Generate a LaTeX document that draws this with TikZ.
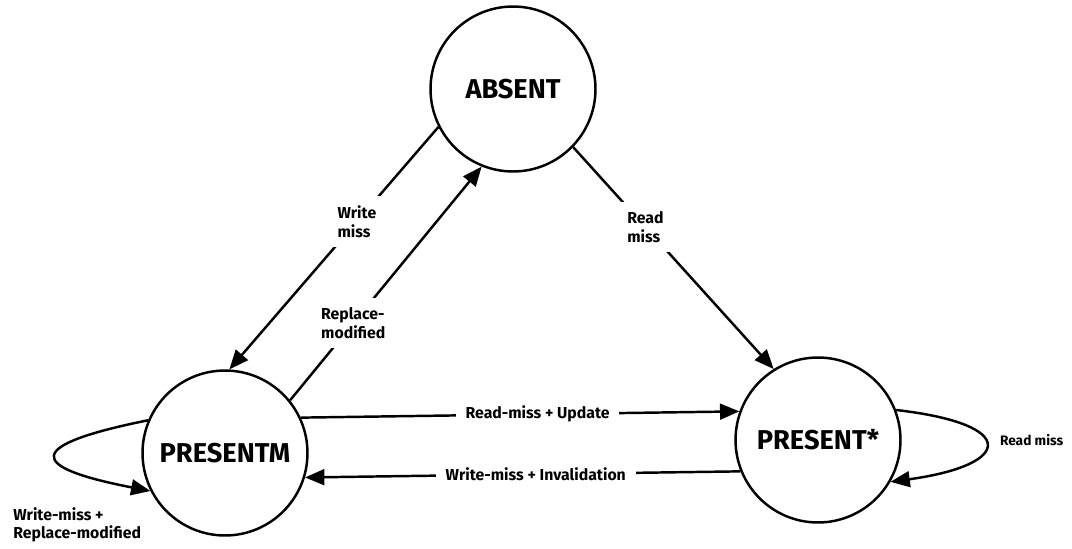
\documentclass[tikz,border=0pt]{standalone}
\usepackage{fontspec}
\setmainfont{Fira Sans}
\usetikzlibrary{arrows.meta,positioning}

\begin{document}
\begin{tikzpicture}[x=0.02cm, y=-0.02cm,
  cstate/.style={draw, circle, line width=1.4pt, minimum size=3.3cm, inner sep=0pt,
                 font=\bfseries\fontsize{15.5}{17}\selectfont},
  arr/.style={-{Triangle[length=11pt,width=9pt]}, line width=1.4pt},
  lbl/.style={fill=white, inner sep=5.5pt, align=left,
              font=\bfseries\fontsize{9}{10.5}\selectfont},
  looplbl/.style={inner sep=0pt, align=left,
                  font=\bfseries\fontsize{9}{10.5}\selectfont}
]
  \useasboundingbox (0,0) rectangle (1072,548);

  % the three states
  \node[cstate] (absent) at (513,89) {ABSENT};
  \node[cstate] (presm) at (225,453) {PRESENTM};
  \node[cstate] (pres) at (818,440) {PRESENT*};

  % transitions between states
  \draw[arr] (absent.207) -- node[lbl, pos=0.39]{Write\\miss} (presm.87);
  \draw[arr] (presm.39) -- node[lbl, pos=0.33]{Replace-\\modified} (absent.248);
  \draw[arr] (absent.-44) -- node[lbl, pos=0.36]{Read\\miss} (pres.122);
  \draw[arr] (presm.25) -- node[lbl, pos=0.54]{Read-miss + Update} (pres.160);
  \draw[arr] (pres.202) -- node[lbl, pos=0.47]{Write-miss + Invalidation} (presm.-17);

  % self loops
  \draw[arr] (presm.157) .. controls +(-124,25) and +(-124,-24) .. (presm.207);
  \draw[arr] (pres.21) .. controls +(123,14) and +(123,-17) .. (pres.-30);
  \node[looplbl, anchor=west] (wmloop) at (13,525) {Write-miss +\\Replace-modified};
  \node[looplbl, right=1.96cm of pres, font=\bfseries\fontsize{7.8}{9}\selectfont]
    (rmloop) {Read miss};
\end{tikzpicture}
\end{document}
